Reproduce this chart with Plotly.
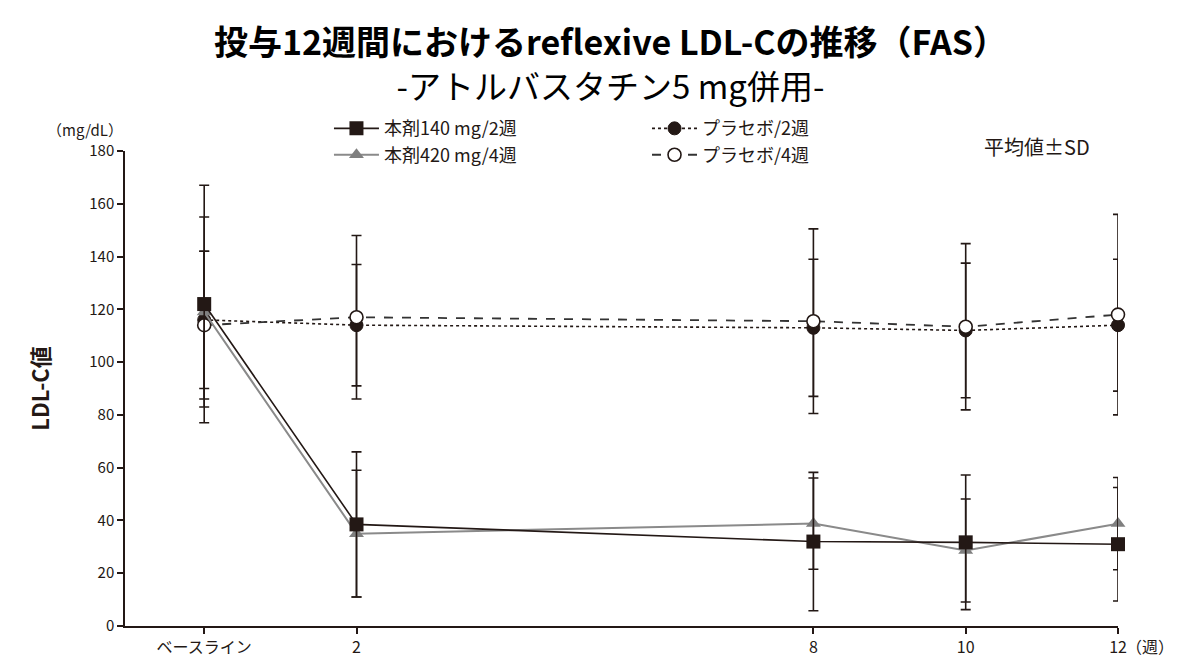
import plotly.graph_objects as go

# x positions (weeks) and tick labels
weeks = [0, 2, 8, 10, 12]
tick_labels = ["ベースライン", "2", "8", "10", "12"]

# series names
name_140 = "本剤140 mg/2週"
name_420 = "本剤420 mg/4週"
name_pbo2 = "プラセボ/2週"
name_pbo4 = "プラセボ/4週"

# mean LDL-C (mg/dL)
mean_140 = [122, 38.5, 32, 31.7, 31]
mean_420 = [119, 35, 38.8, 28.6, 38.8]
mean_pbo2 = [116, 114, 113, 112, 114]
mean_pbo4 = [114, 117, 115.5, 113.4, 118]

# SD
sd_140 = [45, 27.5, 26.2, 25.5, 21.5]
sd_420 = [36, 24, 17.3, 19.5, 17.5]
sd_pbo2 = [26, 23, 26, 25.5, 25]
sd_pbo4 = [28, 31, 35, 31.5, 38]

FONT = "Noto Sans CJK JP"
INK = "#231815"

fig = go.Figure()


def add_series(name, y, sd, line, marker, legend):
    fig.add_trace(
        go.Scatter(
            x=weeks,
            y=y,
            name=name,
            mode="lines+markers",
            line=line,
            marker=marker,
            error_y=dict(
                type="data",
                array=sd,
                visible=True,
                color=INK,
                thickness=1.6,
                width=5,
            ),
            cliponaxis=False,
            legend=legend,
            legendgroup=name,
        )
    )


# placebo first so the active arms sit on top
add_series(
    name_pbo2,
    mean_pbo2,
    sd_pbo2,
    dict(color=INK, width=1.6, dash="dot"),
    dict(symbol="circle", size=13, color=INK, line=dict(color=INK, width=1)),
    "legend2",
)
add_series(
    name_pbo4,
    mean_pbo4,
    sd_pbo4,
    dict(color="#333333", width=1.8, dash="dash"),
    dict(symbol="circle", size=13, color="white", line=dict(color=INK, width=1.6)),
    "legend2",
)
add_series(
    name_420,
    mean_420,
    sd_420,
    dict(color="#8a8a8a", width=2),
    dict(symbol="triangle-up", size=13, color="#7f7f7f"),
    "legend",
)
add_series(
    name_140,
    mean_140,
    sd_140,
    dict(color=INK, width=1.6),
    dict(symbol="square", size=14, color=INK),
    "legend",
)

legend_common = dict(
    font=dict(family=FONT, size=18, color=INK),
    bgcolor="rgba(0,0,0,0)",
    itemwidth=45,
    tracegroupgap=4,
    yanchor="top",
    y=1.086,
    xanchor="left",
)


def note(text, x, y, size, xref="paper", anchor="center", xshift=0):
    return dict(
        text=text,
        xref=xref,
        yref="paper",
        x=x,
        y=y,
        xanchor=anchor,
        yanchor="middle",
        xshift=xshift,
        showarrow=False,
        font=dict(family=FONT, size=size, color="black" if size > 25 else INK),
    )


title_text = (
    "<b>投与12週間におけるreflexive LDL-Cの推移（FAS）</b><br>"
    "<span style='font-size:33px'>-アトルバスタチン5 mg併用-</span>"
)

fig.update_layout(
    width=1192,
    height=662,
    paper_bgcolor="white",
    plot_bgcolor="white",
    margin=dict(l=117, r=82, t=143, b=40),
    font=dict(family=FONT, color=INK),
    legend=dict(x=0.2054, traceorder="reversed", **legend_common),
    legend2=dict(x=0.5257, traceorder="normal", **legend_common),
    xaxis=dict(
        range=[-1.04, 12],
        tickmode="array",
        tickvals=weeks,
        ticktext=tick_labels,
        ticks="outside",
        ticklen=6,
        tickwidth=1.5,
        tickcolor=INK,
        showline=True,
        linecolor=INK,
        linewidth=1.5,
        showgrid=False,
        zeroline=False,
        tickfont=dict(family=FONT, size=16, color=INK),
    ),
    yaxis=dict(
        range=[0, 180],
        tickmode="linear",
        tick0=0,
        dtick=20,
        ticks="outside",
        ticklen=6,
        tickwidth=1.5,
        tickcolor=INK,
        showline=True,
        linecolor=INK,
        linewidth=1.5,
        showgrid=False,
        zeroline=False,
        tickfont=dict(family=FONT, size=15, color=INK),
        title=dict(
            text="<b>LDL-C値</b>",
            font=dict(family=FONT, size=22, color=INK),
            standoff=34,
        ),
    ),
    annotations=[
        note(title_text, 0.4894, 1.186, 34),
        note("（mg/dL）", -0.040, 1.046, 15),
        note("平均値±SD", 0.918, 1.0104, 20),
        note("（週）", 12, -0.042, 16, xref="x", anchor="left", xshift=6),
    ],
)

fig.write_html("out.html")
